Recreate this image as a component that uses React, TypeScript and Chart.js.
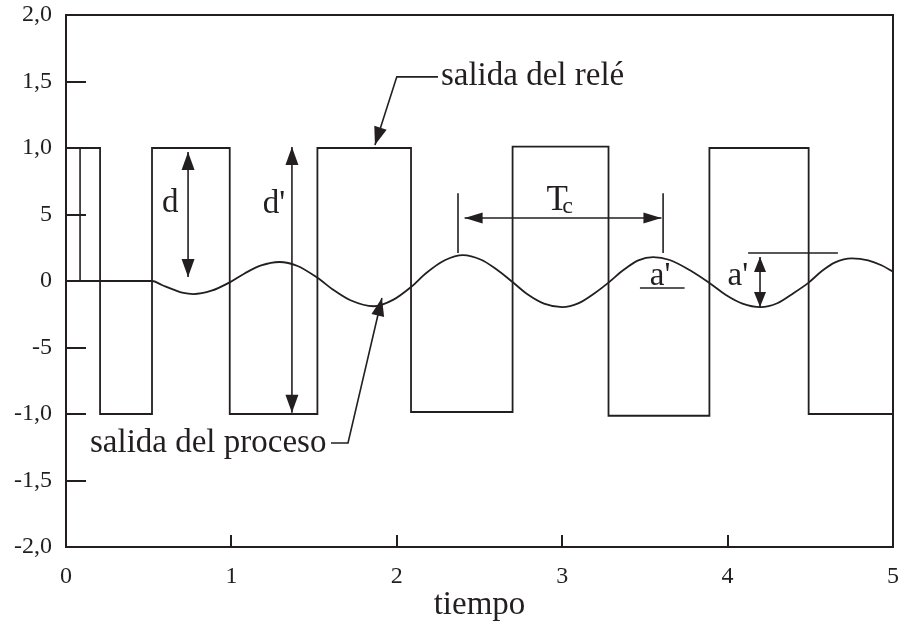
import React, { useEffect, useRef } from 'react';
import { Chart, registerables } from 'chart.js';

Chart.register(...registerables);

// ---------- data ----------
const relaySwitchTimes = [0, 0.206, 0.52, 0.99, 1.52, 2.086, 2.70, 3.28, 3.89, 4.49, 5.0];
const relayLevels = [1, -1, 1, -1, 1, -0.985, 1.01, -1.013, 1, -1];

const processTimes = [
  0, 0.52, 0.58, 0.65, 0.71, 0.77, 0.88, 0.99, 1.08, 1.18, 1.29, 1.40, 1.52, 1.62, 1.72, 1.86, 1.98,
  2.086, 2.18, 2.29, 2.40, 2.51, 2.60, 2.70, 2.79, 2.89, 3.0, 3.10, 3.20, 3.28, 3.37, 3.46, 3.55,
  3.65, 3.78, 3.89, 3.99, 4.09, 4.20, 4.30, 4.40, 4.49, 4.57, 4.65, 4.75, 4.85, 4.93, 5.0,
];
const processValues = [
  0, 0, -0.03, -0.065, -0.09, -0.098, -0.073, -0.01, 0.057, 0.117, 0.143, 0.113, 0.024, -0.07, -0.145, -0.19, -0.14,
  -0.045, 0.062, 0.156, 0.195, 0.16, 0.09, -0.008, -0.1, -0.17, -0.196, -0.166, -0.088, -0.012, 0.082, 0.155, 0.18,
  0.158, 0.075, -0.015, -0.105, -0.17, -0.196, -0.167, -0.09, -0.012, 0.075, 0.14, 0.17, 0.155, 0.118, 0.07,
];

const xTickValues = [0, 1, 2, 3, 4, 5];
const xTickLabels = ['0', '1', '2', '3', '4', '5'];
const yTickValues = [-2, -1.5, -1, -0.5, 0, 0.5, 1, 1.5, 2];
const yTickLabels = ['-2,0', '-1,5', '-1,0', '-5', '0', '5', '1,0', '1,5', '2,0'];
const xInnerTicks = [1, 2, 3, 4];
const yInnerTicks = [-1.5, -1, -0.5, 0, 0.5, 1, 1.5];

const xTitle = 'tiempo';
const labelRelay = 'salida del relé';
const labelProcess = 'salida del proceso';

// ---------- styles ----------
const INK = '#231f20';
const FONT = '"Liberation Serif", "Times New Roman", serif';

type Pt = [number, number];

function buildRelayPoints() {
  const pts: { x: number; y: number }[] = [];
  for (let i = 0; i < relayLevels.length; i++) {
    pts.push({ x: relaySwitchTimes[i], y: relayLevels[i] });
    pts.push({ x: relaySwitchTimes[i + 1], y: relayLevels[i] });
  }
  return pts;
}

const annotationPlugin = {
  id: 'relayAnnotations',
  afterDraw(chart: any) {
    const { ctx, chartArea: ca, scales } = chart;
    const xs = scales.x;
    const ys = scales.y;
    const X = (t: number) => xs.getPixelForValue(t);
    const Y = (v: number) => ys.getPixelForValue(v);
    ctx.save();
    ctx.strokeStyle = INK;
    ctx.fillStyle = INK;
    ctx.lineCap = 'butt';

    // frame
    ctx.lineWidth = 2;
    ctx.strokeRect(ca.left, ca.top, ca.right - ca.left, ca.bottom - ca.top);

    // inward ticks
    ctx.lineWidth = 2;
    ctx.beginPath();
    for (const v of yInnerTicks) {
      const py = Math.round(Y(v));
      ctx.moveTo(ca.left, py);
      ctx.lineTo(ca.left + 20, py);
    }
    for (const t of xInnerTicks) {
      const px = Math.round(X(t));
      ctx.moveTo(px, ca.bottom);
      ctx.lineTo(px, ca.bottom - 12);
    }
    ctx.stroke();

    const line = (pts: Pt[], w = 1.6) => {
      ctx.lineWidth = w;
      ctx.beginPath();
      pts.forEach(([t, v], i) => {
        const px = X(t), py = Y(v);
        if (i === 0) ctx.moveTo(px, py); else ctx.lineTo(px, py);
      });
      ctx.stroke();
    };
    const head = (from: Pt, tip: Pt, L = 18, W = 6.5) => {
      const x1 = X(from[0]), y1 = Y(from[1]);
      const x2 = X(tip[0]), y2 = Y(tip[1]);
      const a = Math.atan2(y2 - y1, x2 - x1);
      const bx = x2 - L * Math.cos(a), by = y2 - L * Math.sin(a);
      ctx.beginPath();
      ctx.moveTo(x2, y2);
      ctx.lineTo(bx + W * Math.sin(a), by - W * Math.cos(a));
      ctx.lineTo(bx - W * Math.sin(a), by + W * Math.cos(a));
      ctx.closePath();
      ctx.fill();
    };
    const text = (s: string, t: number, v: number, size = 33) => {
      ctx.font = `${size}px ${FONT}`;
      ctx.textAlign = 'left';
      ctx.textBaseline = 'alphabetic';
      ctx.fillText(s, X(t), Y(v));
    };

    // start marker
    line([[0.085, 0], [0.085, 1]]);

    // d
    line([[0.738, 0.97], [0.738, 0.03]]);
    head([0.738, 0.5], [0.738, 0.97]);
    head([0.738, 0.5], [0.738, 0.03]);
    text('d', 0.58, 0.52);

    // d'
    line([[1.366, 1.0075], [1.366, -0.99]]);
    head([1.366, 0], [1.366, 1.0075]);
    head([1.366, 0], [1.366, -0.99]);
    text("d'", 1.19, 0.51);

    // Tc
    line([[2.37, 0.66], [2.37, 0.21]]);
    line([[3.61, 0.66], [3.61, 0.21]]);
    line([[2.41, 0.474], [3.60, 0.474]]);
    head([3.0, 0.474], [2.41, 0.474], 18, 5.5);
    head([3.0, 0.474], [3.60, 0.474], 18, 5.5);
    text('T', 2.905, 0.534, 35);
    text('c', 3.0, 0.51, 24);

    // a' (first, underlined)
    text("a'", 3.53, -0.03);
    line([[3.47, -0.053], [3.74, -0.053]]);

    // a' (second, with arrow)
    text("a'", 4.0, -0.03);
    line([[4.124, 0.21], [4.667, 0.21]]);
    line([[4.196, 0.18], [4.196, -0.195]]);
    head([4.196, 0], [4.196, 0.18], 15, 6);
    head([4.196, 0], [4.196, -0.195], 15, 6);

    // salida del relé
    text(labelRelay, 2.267, 1.475);
    line([[2.249, 1.535], [2.0, 1.535], [1.868, 1.023]]);
    head([2.0, 1.535], [1.868, 1.023]);

    // salida del proceso
    text(labelProcess, 0.145, -1.286);
    line([[1.602, -1.218], [1.705, -1.218], [1.91, -0.128]]);
    head([1.705, -1.218], [1.91, -0.128]);

    ctx.restore();
  },
};

export default function App() {
  const ref = useRef<HTMLCanvasElement | null>(null);
  useEffect(() => {
    document.body.style.margin = '0';
    const canvas = ref.current!;
    const chart = new Chart(canvas, {
      type: 'line',
      data: {
        datasets: [
          {
            label: labelRelay,
            data: buildRelayPoints(),
            borderColor: INK,
            borderWidth: 1.8,
            pointRadius: 0,
            fill: false,
            tension: 0,
          },
          {
            label: labelProcess,
            data: processTimes.map((t, i) => ({ x: t, y: processValues[i] })),
            borderColor: INK,
            borderWidth: 1.8,
            pointRadius: 0,
            fill: false,
            cubicInterpolationMode: 'monotone',
          },
        ],
      },
      options: {
        responsive: false,
        animation: false,
        devicePixelRatio: 1,
        layout: { padding: { top: 15, right: 7, bottom: 0, left: 0 } },
        plugins: { legend: { display: false }, tooltip: { enabled: false }, title: { display: false } },
        scales: {
          x: {
            type: 'linear',
            min: 0,
            max: 5,
            grid: { display: false, drawTicks: false },
            border: { display: false },
            afterBuildTicks: (s: any) => { s.ticks = xTickValues.map((v) => ({ value: v })); },
            afterFit: (s: any) => { s.height = 75; s.paddingLeft = 0; s.paddingRight = 0; },
            ticks: {
              padding: 15,
              color: INK,
              font: { family: FONT, size: 24 },
              maxRotation: 0,
              callback: (v: any) => xTickLabels[xTickValues.indexOf(Number(v))] ?? '',
            },
            title: {
              display: true,
              text: xTitle,
              color: INK,
              font: { family: FONT, size: 33, lineHeight: 1.0 },
              padding: { top: 0, bottom: 0 },
            },
          },
          y: {
            type: 'linear',
            min: -2,
            max: 2,
            grid: { display: false, drawTicks: false },
            border: { display: false },
            afterBuildTicks: (s: any) => { s.ticks = yTickValues.map((v) => ({ value: v })); },
            afterFit: (s: any) => { s.width = 66; s.paddingTop = 0; s.paddingBottom = 0; },
            ticks: {
              padding: 14,
              color: INK,
              font: { family: FONT, size: 24 },
              callback: (v: any) => yTickLabels[yTickValues.indexOf(Number(v))] ?? '',
            },
          },
        },
      },
      plugins: [annotationPlugin],
    });
    return () => chart.destroy();
  }, []);
  return <canvas ref={ref} width={900} height={622} style={{ display: 'block' }} />;
}
